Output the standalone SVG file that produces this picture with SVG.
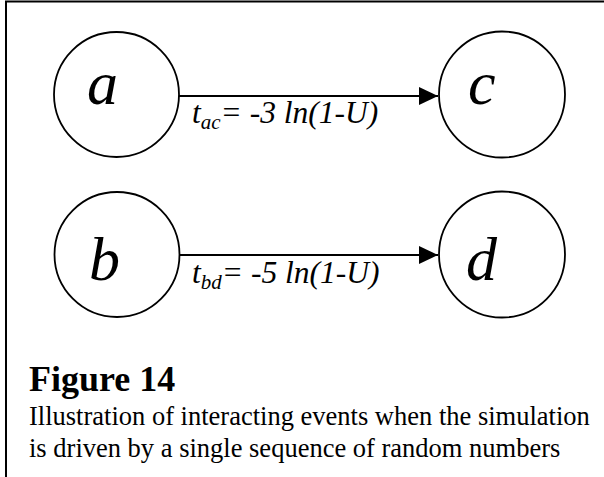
<svg xmlns="http://www.w3.org/2000/svg" width="604" height="477" viewBox="0 0 604 477">
<style>
.node{fill:#fff;stroke:#000;stroke-width:1.8}
.it{font-family:"Liberation Serif","Times New Roman",serif;font-style:italic;fill:#000}
.n{font-size:62px}
.e{font-size:31.5px}
.sub{font-size:21px}
.cap{font-family:"Liberation Serif","Times New Roman",serif;fill:#000}
.conn{stroke:#000;stroke-width:2.2;fill:none}
</style>
<defs>
<marker id="ah" markerUnits="userSpaceOnUse" viewBox="0 0 19 18" refX="19" refY="9" markerWidth="19" markerHeight="18" orient="auto"><path d="M0,0 L19,9 L0,18 Z" fill="#000"/></marker>
</defs>
<rect x="0" y="0" width="604" height="477" fill="#fff"/>
<path d="M6,477 V1.5 H604" fill="none" stroke="#000" stroke-width="2"/>
<g id="connectors">
<line class="conn" x1="179" y1="96" x2="438" y2="96" marker-end="url(#ah)"/>
<line class="conn" x1="179" y1="255" x2="438" y2="255" marker-end="url(#ah)"/>
<text class="it e" x="192" y="123">t<tspan class="sub" dy="6">ac</tspan><tspan dy="-6">= -3 ln(1-U)</tspan></text>
<text class="it e" x="192" y="283">t<tspan class="sub" dy="6">bd</tspan><tspan dy="-6">= -5 ln(1-U)</tspan></text>
</g>
<g id="node-a">
<circle class="node" cx="116.5" cy="94.5" r="62.5"/>
<text class="it n" x="87" y="104">a</text>
</g>
<g id="node-c">
<circle class="node" cx="502" cy="94.5" r="63"/>
<text class="it n" x="468" y="104">c</text>
</g>
<g id="node-b">
<circle class="node" cx="117" cy="254.5" r="62.5"/>
<text class="it n" x="89" y="280">b</text>
</g>
<g id="node-d">
<circle class="node" cx="502" cy="254.5" r="63"/>
<text class="it n" x="466" y="280">d</text>
</g>
<g id="caption">
<text class="cap" x="29" y="391" font-size="36" font-weight="bold">Figure 14</text>
<text class="cap" x="29" y="425" font-size="26.5">Illustration of interacting events when the simulation</text>
<text class="cap" x="29" y="457" font-size="26.5">is driven by a single sequence of random numbers</text>
</g>
</svg>
